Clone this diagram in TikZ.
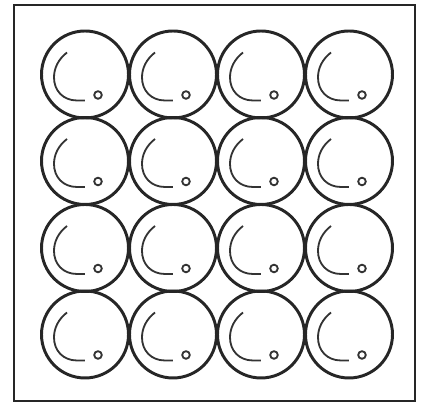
\documentclass[tikz,border=0pt]{standalone}
\usetikzlibrary{calc}
\tikzset{
  frame/.style={line width=1.8pt,draw=black!85},
  cup/.style={line width=2.1pt,draw=black!85},
  hook/.style={line width=1.3pt,draw=black!80},
  dot/.style={line width=1.3pt,draw=black!80}
}
\begin{document}
\begin{tikzpicture}[x=0.025cm,y=0.025cm]
  \useasboundingbox (0,0) rectangle (424,406);
  \draw[frame] (14,5) rectangle (415,401);
  % 4x4 cells
  \foreach \cx in {85,173,261,349}{
    \foreach \cy in {331.5,245,158,71.5}{
      \begin{scope}[shift={(\cx,\cy)}]
        \draw[cup] (0,0) circle (43.5);
        \draw[hook] (-18,22) .. controls (-27,15) and (-31,6) .. (-31,-3)
          .. controls (-31,-16) and (-22,-26) .. (-8,-26) -- (0,-26);
        \draw[dot] (13,-20.5) circle (3.8);
      \end{scope}
    }
  }
\end{tikzpicture}
\end{document}
